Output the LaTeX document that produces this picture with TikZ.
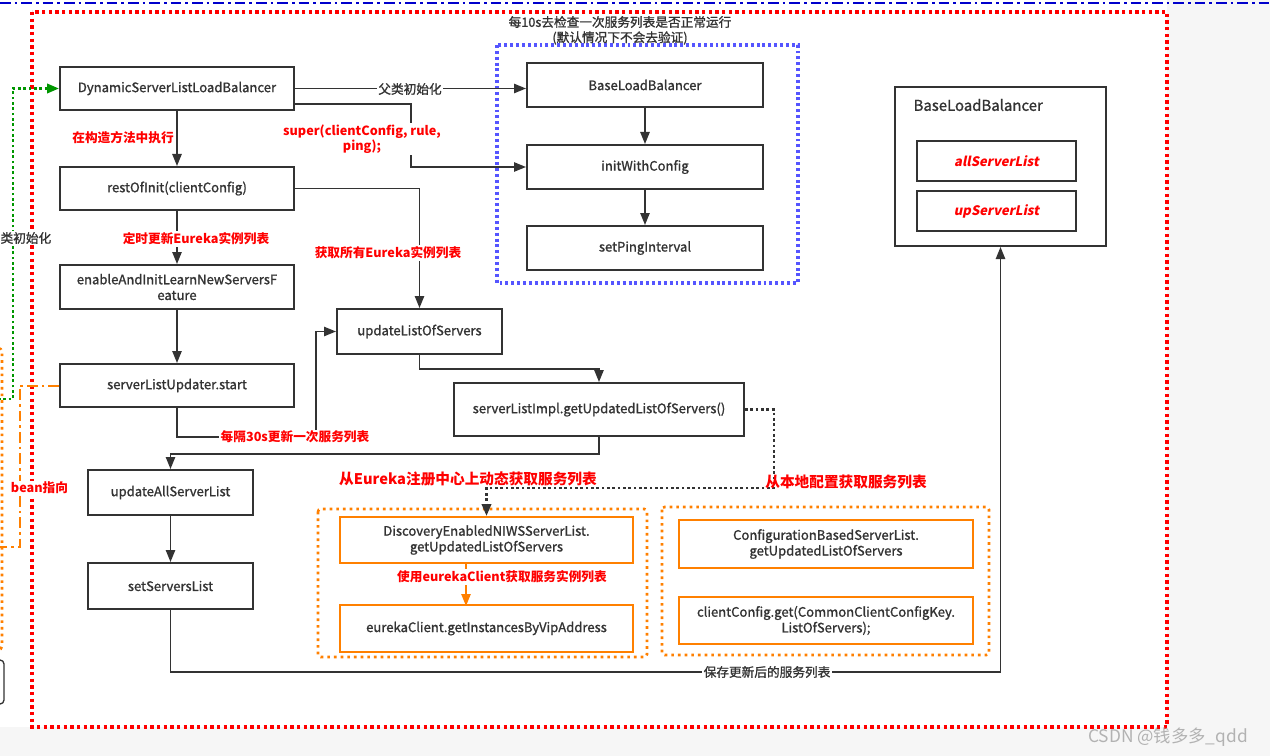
\documentclass[tikz,border=0pt]{standalone}
\usepackage{fontspec}
\setmainfont{Noto Sans CJK SC}
\newfontfamily\boxfont{Noto Sans CJK SC}[FakeBold=1.2]
\newfontfamily\slantfont{Noto Sans CJK SC}[FakeSlant=0.2]
\usepackage{tikz}
\usetikzlibrary{arrows.meta}

\definecolor{dark}{RGB}{51,51,51}
\definecolor{orng}{RGB}{255,128,0}
\definecolor{grpblue}{RGB}{85,85,255}
\definecolor{lineblue}{RGB}{0,0,204}
\definecolor{grn}{RGB}{0,150,0}
\definecolor{bgray}{RGB}{246,246,246}

\tikzset{
  box/.style={draw=dark, line width=1.5pt, fill=white, text=dark, align=center, inner sep=1pt, font=\boxfont\fontsize{9.8}{11.8}\selectfont},
  obox/.style={box, draw=orng},
  sz/.style 2 args={minimum width=#1*0.75pt, minimum height=#2*0.75pt},
  con/.style={draw=dark, line width=1.1pt, -{Triangle[length=9pt,width=7pt]}},
  ocon/.style={con, draw=orng},
  dotcon/.style={con, line width=2pt, dash pattern=on 2pt off 2pt},
  gcon/.style={con, draw=grn, line width=2pt, dash pattern=on 2pt off 2pt},
  lbl/.style={text=red, inner sep=1pt, align=center, font=\bfseries\fontsize{9.5}{11.5}\selectfont},
  biglbl/.style={lbl, font=\bfseries\fontsize{11}{13}\selectfont},
  txt/.style={text=dark, inner sep=1pt, align=center, font=\boxfont\fontsize{9.5}{11.5}\selectfont},
  grp/.style={line width=2pt, dash pattern=on 2pt off 3pt, rounded corners=2pt}
}

\begin{document}
\begin{tikzpicture}[x=0.75pt,y=0.75pt,yscale=-1,xscale=1]
\useasboundingbox (0,0) rectangle (1270,756);
\fill[bgray] (0,0) rectangle (1270,756);
\fill[white] (0,0) rectangle (1167,727);

%Outer frames
\draw[lineblue, line width=1.6pt, dash pattern=on 8pt off 3pt on 2pt off 3pt] (0,3) -- (1270,3);
\draw[red, line width=2.5pt, dash pattern=on 2.5pt off 2.5pt] (32,12) rectangle (1167,727);
\draw[grpblue, line width=2.5pt, dash pattern=on 2.2pt off 2.2pt] (497,45) rectangle (798,283);
\draw[orng, grp] (318,509) rectangle (647,657);
\draw[orng, grp] (662,507) rectangle (989,655);
%left side, cut off
\draw[orng, grp, rounded corners=3pt] (-10,348) rectangle (2,650);
\draw[dark, line width=1pt, rounded corners=3pt] (-10,660) rectangle (4,704);

% Title
\node[txt] (ttl1) at (620,22) {每10s去检查一次服务列表是否正常运行};
\node[txt] (ttl2) at (620,38) {(默认情况下不会去验证)};

%Left column
\node[box, sz={234}{43}] (dsl) at (177,88.5) {DynamicServerListLoadBalancer};
\node[box, sz={234}{43}] (rest) at (177,188.5) {restOfInit(clientConfig)};
\node[box, sz={234}{44}] (enable) at (177,287) {enableAndInitLearnNewServersF\\eature};
\node[box, sz={234}{43}] (slu) at (177,385.5) {serverListUpdater.start};
\node[box, sz={165}{45}] (uasl) at (170.5,492.5) {updateAllServerList};
\node[box, sz={165}{46}] (ssl) at (170.5,586) {setServersList};
\node[box, sz={165}{45}] (ulos) at (419.5,331.5) {updateListOfServers};
\node[box, sz={290}{53}] (sli) at (599,409.5) {serverListImpl.getUpdatedListOfServers()};

%Parent class
\node[box, sz={236}{44}] (blb) at (645,85) {BaseLoadBalancer};
\node[box, sz={236}{44}] (iwc) at (645,167) {initWithConfig};
\node[box, sz={236}{44}] (spi) at (645,248) {setPingInterval};

%Server lists
\node[box, sz={211}{159}] (bigblb) at (1000.5,166.5) {};
\node[txt, anchor=west, font=\boxfont\fontsize{11.2}{13}\selectfont] (bigttl) at (912,105) {BaseLoadBalancer};
\node[box, sz={159}{40}, text=red, font=\slantfont\bfseries\fontsize{9.8}{11.8}\selectfont] (asl) at (996.5,161) {allServerList};
\node[box, sz={159}{40}, text=red, font=\slantfont\bfseries\fontsize{9.8}{11.8}\selectfont] (usl) at (996.5,211) {upServerList};

%Eureka / local config
\node[obox, sz={293}{46}] (denl) at (486.5,540) {DiscoveryEnabledNIWSServerList.\\getUpdatedListOfServers};
\node[obox, sz={293}{47}] (ecg) at (486.5,628.5) {eurekaClient.getInstancesByVipAddress};
\node[obox, sz={294}{48}] (cbsl) at (826,544) {ConfigurationBasedServerList.\\getUpdatedListOfServers};
\node[obox, sz={294}{47}] (ccg) at (826,620.5) {clientConfig.get(CommonClientConfigKey.\\ListOfServers);};

%Connectors
\draw[con] (dsl.east) -- (blb.west |- dsl.east);
\draw[con] (dsl.south east) ++(0,-7) -- ++(116,0) |- (iwc.west);
\draw[con] (blb) -- (iwc);
\draw[con] (iwc) -- (spi);
\draw[con] (dsl) -- (rest);
\draw[con] (rest) -- (enable);
\draw[con] (enable) -- (slu);
\draw[con] (rest.east) -| (ulos.north);
\draw[con] (slu.south) -- ++(0,29) -- ++(139,0) |- (ulos.west);
\draw[con] (ulos.south) -- ++(0,14) -| (sli.north);
\draw[con] (sli.south) -- ++(0,17) -| (uasl.north);
\draw[con] (uasl) -- (ssl);
\draw[con] (ssl.south) -- ++(0,62) -| (bigblb.south);
\draw[dotcon] (sli.east) -- ++(29,0) -- ++(0,78.5) -| (denl.north);
\draw[ocon] (denl.south) ++(-20.5,0) -- ++(0,42);
\coordinate (gin) at (-2,399);
\draw[gcon] (gin) -- ++(15,0) |- (dsl.west);
\coordinate (bin) at (-2,547);
\draw[orng, line width=1.5pt, dash pattern=on 8pt off 3pt on 2pt off 3pt] (slu.west) -- ++(-39,0) |- (bin);

% Text Node
\node[txt, fill=white] (l1) at (410,89) {父类初始化};
\node[lbl, fill=white] (l2) at (362,139) {super(clientConfig, rule,\\ping);};
\node[lbl, fill=white] (l3) at (123,138) {在构造方法中执行};
\node[lbl, fill=white] (l4) at (196,239) {定时更新Eureka实例列表};
\node[lbl, fill=white] (l5) at (388,253) {获取所有Eureka实例列表};
\node[lbl, fill=white] (l6) at (295,437) {每隔30s更新一次服务列表};
\node[biglbl] (l7) at (468,479) {从Eureka注册中心上动态获取服务列表};
\node[biglbl] (l8) at (846,482) {从本地配置获取服务列表};
\node[lbl, fill=white] (l9) at (502,577) {使用eurekaClient获取服务实例列表};
\node[txt, fill=white] (l10) at (767,672) {保存更新后的服务列表};
\node[txt, fill=white, anchor=west] (l11) at (-1,238) {类初始化};
\node[lbl, fill=white] (l12) at (39.5,488) {bean指向};
\node[text=gray!60, font=\fontsize{13}{15}\selectfont] (wm) at (1168,737) {CSDN @钱多多\_qdd};

\end{tikzpicture}
\end{document}
